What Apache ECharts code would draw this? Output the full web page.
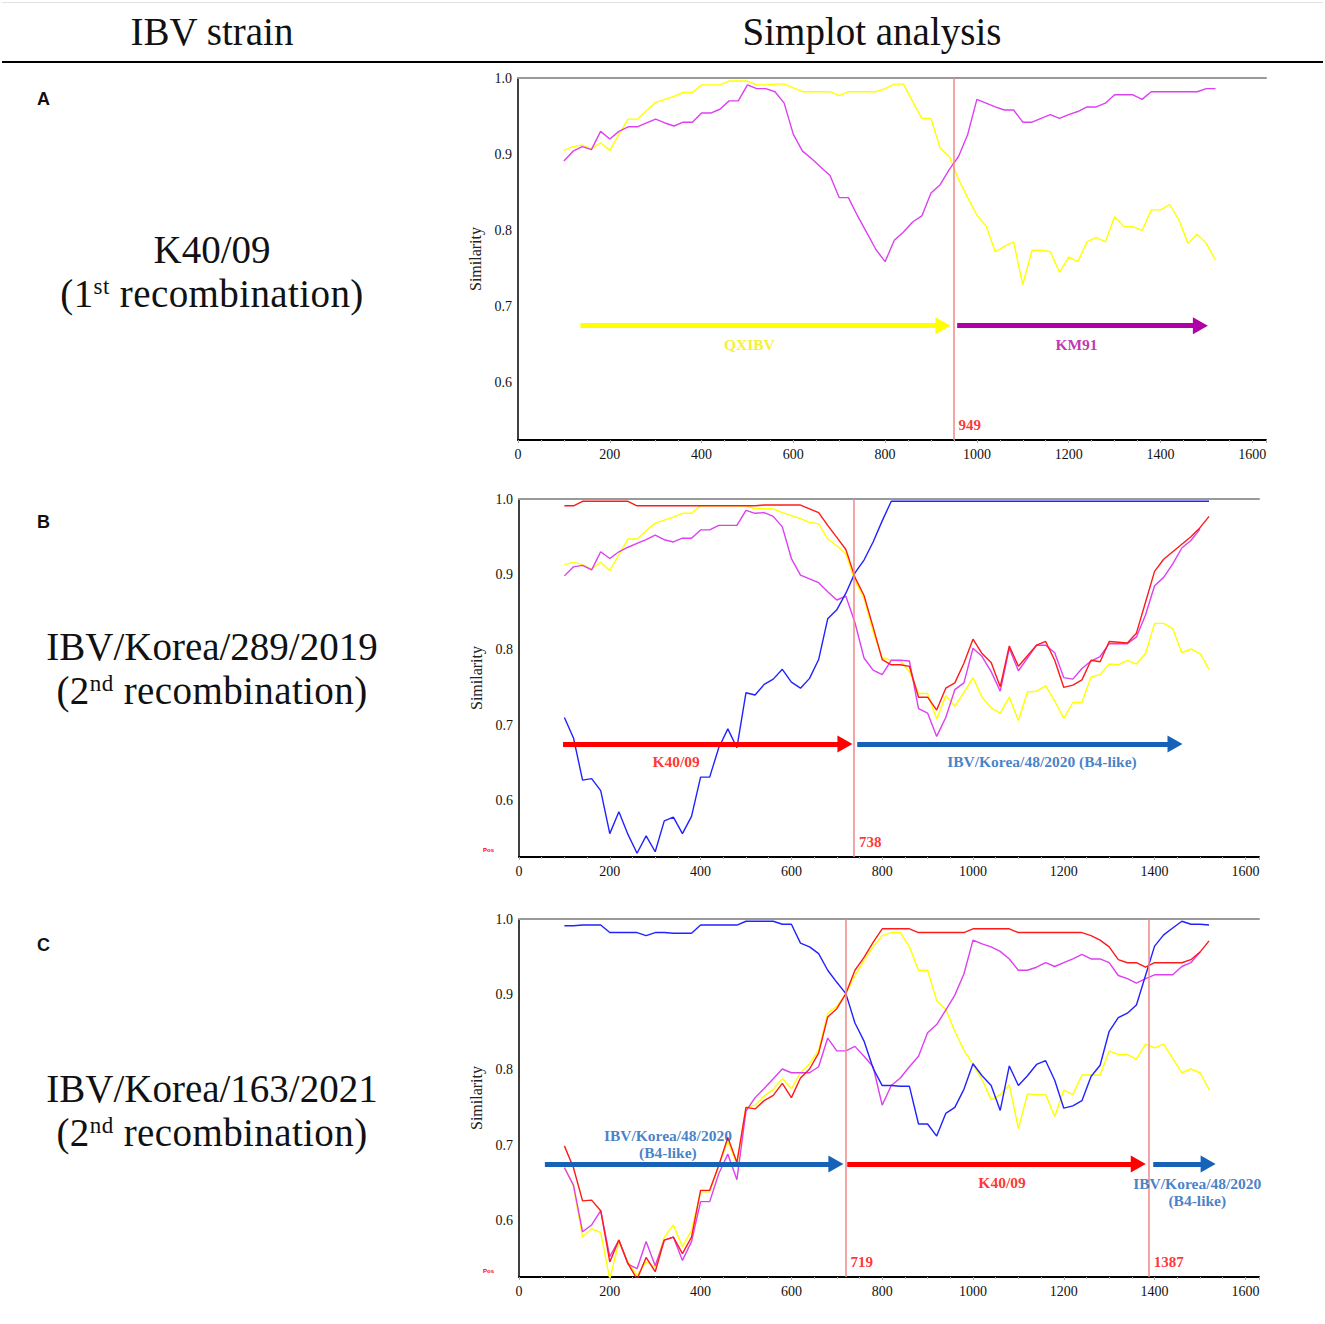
<!DOCTYPE html>
<html>
<head>
<meta charset="utf-8">
<title>Simplot analysis</title>
<script src="https://cdn.jsdelivr.net/npm/echarts@6/dist/echarts.min.js"></script>
<style>
  body { margin: 0; background: #fff; }
  #page { position: relative; width: 1325px; height: 1324px; overflow: hidden; font-family: 'Liberation Serif', serif; color: #111; }
  #chart { position: absolute; left: 0; top: 0; width: 1325px; height: 1324px; }
  .rule { position: absolute; left: 2px; width: 1321px; }
  .head, .strain { position: absolute; text-align: center; font-size: 39px; line-height: 44px; white-space: nowrap; }
  .strain .rec { letter-spacing: 0.4px; }
  .strain sup { font-size: 23px; vertical-align: baseline; position: relative; top: -13px; line-height: 0; }
  .letter { position: absolute; left: 37px; font-family: 'Liberation Sans', Arial, sans-serif; font-weight: bold; font-size: 18px; line-height: 18px; }
  .pos { position: absolute; left: 483px; font-family: 'Liberation Sans', sans-serif; font-size: 6px; color: #ff0000; font-weight: bold; }
</style>
</head>
<body>
<div id="page">
  <div id="chart"></div>
  <div class="rule" style="top:2px;height:1px;background:#e2e2e2;"></div>
  <div class="rule" style="top:61px;height:2px;background:#000;"></div>
  <div class="head" style="left:0;width:424px;top:10px;">IBV strain</div>
  <div class="head" style="left:572px;width:600px;top:10px;">Simplot analysis</div>

  <div class="letter" style="top:90px;">A</div>
  <div class="letter" style="top:513px;">B</div>
  <div class="letter" style="top:936px;">C</div>

  <div class="strain" style="left:0;width:424px;top:228px;">K40/09<br><span class="rec">(1<sup>st</sup> recombination)</span></div>
  <div class="strain" style="left:0;width:424px;top:625px;">IBV/Korea/289/2019<br><span class="rec">(2<sup>nd</sup> recombination)</span></div>
  <div class="strain" style="left:0;width:424px;top:1067px;">IBV/Korea/163/2021<br><span class="rec">(2<sup>nd</sup> recombination)</span></div>

  <div class="pos" style="top:847px;">Pos</div>
  <div class="pos" style="top:1268px;">Pos</div>
</div>
<script>
// window midpoints (bp) shared by every Simplot panel
var windowPos = [100, 120, 140, 160, 180, 200, 220, 240, 260, 280,
  300, 320, 340, 360, 380, 400, 420, 440, 460, 480,
  500, 520, 540, 560, 580, 600, 620, 640, 660, 680,
  700, 720, 740, 760, 780, 800, 820, 840, 860, 880,
  900, 920, 940, 960, 980, 1000, 1020, 1040, 1060, 1080,
  1100, 1120, 1140, 1160, 1180, 1200, 1220, 1240, 1260, 1280,
  1300, 1320, 1340, 1360, 1380, 1400, 1420, 1440, 1460, 1480,
  1500, 1520];

var xTicks = [0, 200, 400, 600, 800, 1000, 1200, 1400, 1600];
var yTicks = [0.6, 0.7, 0.8, 0.9, 1.0];

// ---- panel A : K40/09 ----
var qxibvA = [0.905, 0.910, 0.912, 0.907, 0.915, 0.905, 0.926, 0.946, 0.946, 0.957,
  0.968, 0.972, 0.976, 0.981, 0.981, 0.991, 0.991, 0.991, 0.996, 0.996,
  0.996, 0.991, 0.991, 0.992, 0.992, 0.987, 0.982, 0.982, 0.982, 0.982,
  0.977, 0.982, 0.982, 0.982, 0.982, 0.986, 0.992, 0.992, 0.969, 0.947,
  0.947, 0.908, 0.897, 0.867, 0.843, 0.820, 0.806, 0.772, 0.779, 0.785,
  0.729, 0.774, 0.774, 0.772, 0.745, 0.765, 0.759, 0.785, 0.791, 0.785,
  0.818, 0.805, 0.805, 0.800, 0.827, 0.827, 0.834, 0.814, 0.783, 0.795,
  0.783, 0.761];
var km91A = [0.891, 0.904, 0.910, 0.906, 0.930, 0.920, 0.930, 0.936, 0.936, 0.941,
  0.946, 0.941, 0.937, 0.942, 0.942, 0.954, 0.954, 0.959, 0.970, 0.970,
  0.991, 0.986, 0.986, 0.982, 0.967, 0.926, 0.904, 0.894, 0.883, 0.872,
  0.843, 0.843, 0.819, 0.797, 0.775, 0.759, 0.787, 0.798, 0.811, 0.819,
  0.849, 0.860, 0.880, 0.897, 0.926, 0.972, 0.967, 0.962, 0.958, 0.958,
  0.942, 0.942, 0.947, 0.952, 0.947, 0.952, 0.956, 0.962, 0.962, 0.967,
  0.978, 0.978, 0.978, 0.972, 0.982, 0.982, 0.982, 0.982, 0.982, 0.982,
  0.986, 0.986];
var breaksA = [949];
var arrowsA = [
  { from: 136, to: 926, labelAt: 504, text: 'QXIBV', strain: 'qxibv' },
  { from: 957, to: 1487, labelAt: 1217, text: 'KM91', strain: 'km91' }
];

// ---- panel B : IBV/Korea/289/2019 ----
var k4009B = [0.991, 0.991, 0.997, 0.997, 0.997, 0.997, 0.997, 0.997, 0.991, 0.991,
  0.991, 0.991, 0.991, 0.991, 0.991, 0.991, 0.991, 0.991, 0.991, 0.991,
  0.991, 0.991, 0.992, 0.992, 0.992, 0.992, 0.992, 0.987, 0.982, 0.965,
  0.949, 0.933, 0.896, 0.872, 0.830, 0.787, 0.780, 0.780, 0.778, 0.737,
  0.737, 0.720, 0.749, 0.756, 0.782, 0.814, 0.795, 0.783, 0.751, 0.805,
  0.778, 0.792, 0.806, 0.811, 0.786, 0.750, 0.753, 0.760, 0.786, 0.784,
  0.811, 0.810, 0.809, 0.822, 0.863, 0.904, 0.920, 0.930, 0.940, 0.950,
  0.962, 0.977];
var qxibvB = [0.913, 0.916, 0.913, 0.907, 0.916, 0.905, 0.926, 0.947, 0.947, 0.958,
  0.968, 0.972, 0.976, 0.981, 0.981, 0.991, 0.991, 0.991, 0.991, 0.991,
  0.991, 0.987, 0.987, 0.987, 0.982, 0.978, 0.974, 0.969, 0.967, 0.947,
  0.938, 0.927, 0.892, 0.868, 0.824, 0.789, 0.786, 0.785, 0.771, 0.742,
  0.742, 0.708, 0.739, 0.725, 0.743, 0.763, 0.737, 0.723, 0.716, 0.737,
  0.706, 0.744, 0.745, 0.752, 0.732, 0.709, 0.730, 0.730, 0.764, 0.767,
  0.781, 0.780, 0.786, 0.781, 0.795, 0.835, 0.835, 0.828, 0.796, 0.801,
  0.795, 0.774];
var km91B = [0.898, 0.910, 0.912, 0.906, 0.930, 0.921, 0.930, 0.936, 0.941, 0.946,
  0.952, 0.946, 0.943, 0.948, 0.948, 0.959, 0.959, 0.965, 0.965, 0.965,
  0.985, 0.981, 0.982, 0.977, 0.963, 0.921, 0.899, 0.894, 0.889, 0.877,
  0.866, 0.871, 0.836, 0.789, 0.773, 0.767, 0.786, 0.786, 0.785, 0.722,
  0.716, 0.685, 0.710, 0.747, 0.756, 0.802, 0.791, 0.771, 0.745, 0.802,
  0.772, 0.789, 0.806, 0.806, 0.796, 0.763, 0.761, 0.775, 0.785, 0.791,
  0.808, 0.808, 0.808, 0.817, 0.846, 0.885, 0.896, 0.914, 0.935, 0.945,
  0.960, null];
var b4B = [0.710, 0.683, 0.627, 0.629, 0.613, 0.556, 0.585, 0.555, 0.530, 0.553,
  0.532, 0.573, 0.578, 0.556, 0.579, 0.631, 0.631, 0.670, 0.695, 0.670,
  0.743, 0.740, 0.754, 0.761, 0.774, 0.757, 0.749, 0.762, 0.787, 0.841,
  0.853, 0.875, 0.902, 0.919, 0.943, 0.971, 0.997, 0.997, 0.997, 0.997,
  0.997, 0.997, 0.997, 0.997, 0.997, 0.997, 0.997, 0.997, 0.997, 0.997,
  0.997, 0.997, 0.997, 0.997, 0.997, 0.997, 0.997, 0.997, 0.997, 0.997,
  0.997, 0.997, 0.997, 0.997, 0.997, 0.997, 0.997, 0.997, 0.997, 0.997,
  0.997, 0.997];
var breaksB = [738];
var arrowsB = [
  { from: 97, to: 718, labelAt: 346, text: 'K40/09', strain: 'k4009' },
  { from: 745, to: 1445, labelAt: 1152, text: 'IBV/Korea/48/2020 (B4-like)', strain: 'b4' }
];

// ---- panel C : IBV/Korea/163/2021 ----
var k4009C = [0.699, 0.670, 0.626, 0.627, 0.613, 0.545, 0.574, 0.543, 0.522, 0.551,
  0.532, 0.574, 0.578, 0.556, 0.578, 0.640, 0.640, 0.673, 0.710, 0.677,
  0.750, 0.748, 0.759, 0.766, 0.782, 0.763, 0.789, 0.801, 0.822, 0.870,
  0.881, 0.901, 0.932, 0.949, 0.969, 0.987, 0.987, 0.987, 0.987, 0.982,
  0.982, 0.982, 0.982, 0.982, 0.982, 0.987, 0.987, 0.987, 0.987, 0.987,
  0.982, 0.982, 0.982, 0.982, 0.982, 0.982, 0.982, 0.982, 0.978, 0.972,
  0.963, 0.946, 0.942, 0.942, 0.936, 0.942, 0.942, 0.942, 0.942, 0.946,
  0.956, 0.971];
var qxibvC = [0.672, 0.645, 0.578, 0.589, 0.584, 0.522, 0.572, 0.545, 0.527, 0.545,
  0.538, 0.578, 0.594, 0.565, 0.587, 0.638, 0.638, 0.673, 0.705, 0.675,
  0.750, 0.753, 0.765, 0.774, 0.788, 0.775, 0.796, 0.808, 0.826, 0.875,
  0.884, 0.901, 0.925, 0.945, 0.963, 0.978, 0.982, 0.982, 0.963, 0.932,
  0.932, 0.892, 0.880, 0.851, 0.826, 0.807, 0.787, 0.760, 0.767, 0.780,
  0.722, 0.768, 0.767, 0.767, 0.738, 0.773, 0.767, 0.793, 0.793, 0.793,
  0.825, 0.820, 0.820, 0.814, 0.834, 0.829, 0.834, 0.815, 0.796, 0.801,
  0.796, 0.774];
var km91C = [0.670, 0.647, 0.585, 0.594, 0.613, 0.552, 0.574, 0.542, 0.536, 0.572,
  0.540, 0.574, 0.578, 0.547, 0.572, 0.625, 0.625, 0.662, 0.688, 0.654,
  0.745, 0.763, 0.775, 0.788, 0.801, 0.796, 0.796, 0.796, 0.804, 0.842,
  0.825, 0.825, 0.831, 0.818, 0.804, 0.753, 0.779, 0.789, 0.804, 0.818,
  0.849, 0.860, 0.879, 0.899, 0.927, 0.972, 0.967, 0.963, 0.957, 0.947,
  0.932, 0.932, 0.936, 0.942, 0.937, 0.942, 0.947, 0.953, 0.947, 0.947,
  0.942, 0.925, 0.921, 0.915, 0.921, 0.926, 0.926, 0.926, 0.937, 0.942,
  0.956, null];
var b4C = [0.991, 0.991, 0.992, 0.992, 0.992, 0.982, 0.982, 0.982, 0.982, 0.978,
  0.982, 0.982, 0.981, 0.981, 0.981, 0.992, 0.992, 0.992, 0.992, 0.992,
  0.997, 0.997, 0.997, 0.997, 0.993, 0.993, 0.968, 0.963, 0.954, 0.932,
  0.916, 0.901, 0.862, 0.838, 0.802, 0.779, 0.779, 0.778, 0.778, 0.728,
  0.728, 0.712, 0.742, 0.750, 0.774, 0.808, 0.792, 0.779, 0.746, 0.805,
  0.779, 0.792, 0.807, 0.812, 0.786, 0.749, 0.752, 0.759, 0.791, 0.806,
  0.851, 0.869, 0.875, 0.886, 0.925, 0.964, 0.979, 0.988, 0.997, 0.993,
  0.993, 0.992];
var breaksC = [719, 1387];
var arrowsC = [
  { from: 57, to: 698, labelAt: 328, text: 'IBV/Korea/48/2020\n(B4-like)', strain: 'b4' },
  { from: 723, to: 1364, labelAt: 1064, text: 'K40/09', strain: 'k4009' },
  { from: 1397, to: 1518, labelAt: 1494, text: 'IBV/Korea/48/2020\n(B4-like)', strain: 'b4' }
];

// styling
var lineColor = { qxibv: '#ffff00', km91: '#dc40f0', k4009: '#ff1a1a', b4: '#2222ff' };
var arrowColor = { qxibv: '#ffff00', km91: '#b000a8', k4009: '#ff0000', b4: '#1662b8' };
var arrowTextColor = { qxibv: '#f3ec00', km91: '#b0009f', k4009: '#ff0000', b4: '#1662b8' };
var serif = "'Liberation Serif', 'Times New Roman', serif";
var xMax = 1630, yMin = 0.525, yMax = 1.0, arrowY = 0.675;

var panels = [
  { grid: { left: 518, top: 78, width: 748, height: 362 },
    lines: [['qxibv', qxibvA], ['km91', km91A]],
    breaks: breaksA, arrows: arrowsA, labelDy: [19, 19] },
  { grid: { left: 519, top: 499, width: 740, height: 358 },
    lines: [['qxibv', qxibvB], ['km91', km91B], ['b4', b4B], ['k4009', k4009B]],
    breaks: breaksB, arrows: arrowsB, labelDy: [18, 18] },
  { grid: { left: 519, top: 919, width: 740, height: 358 },
    lines: [['qxibv', qxibvC], ['km91', km91C], ['b4', b4C], ['k4009', k4009C]],
    breaks: breaksC, arrows: arrowsC, labelDy: [-20, 19, 28] }
];

var option = { animation: false, grid: [], xAxis: [], yAxis: [], series: [] };

panels.forEach(function (p, i) {
  option.grid.push(p.grid);
  // bottom position axis
  option.xAxis.push({
    gridIndex: i, type: 'value', position: 'bottom', min: 0, max: xMax, interval: 200,
    axisLine: { show: true, onZero: false, lineStyle: { color: '#000', width: 2 } },
    axisTick: { show: true, length: 3, lineStyle: { color: '#aaa' } },
    minorTick: { show: true, splitNumber: 4, length: 2, lineStyle: { color: '#bbb' } },
    splitLine: { show: false },
    axisLabel: {
      margin: 7, fontFamily: serif, fontSize: 14, color: '#111',
      formatter: function (v) { return xTicks.indexOf(v) >= 0 ? String(v) : ''; }
    }
  });
  // grey frame line along the top
  option.xAxis.push({
    gridIndex: i, type: 'value', position: 'top', min: 0, max: xMax,
    axisLine: { show: true, onZero: false, lineStyle: { color: '#9a9a9a', width: 2 } },
    axisTick: { show: false }, axisLabel: { show: false }, splitLine: { show: false }
  });
  option.yAxis.push({
    gridIndex: i, type: 'value', min: yMin, max: yMax,
    name: 'Similarity', nameLocation: 'middle', nameGap: 29, nameRotate: 90,
    nameTextStyle: { fontFamily: serif, fontSize: 16, color: '#222' },
    axisLine: { show: true, onZero: false, lineStyle: { color: '#000', width: 1.5 } },
    axisTick: { show: false }, splitLine: { show: false },
    axisLabel: {
      customValues: yTicks, margin: 6, fontFamily: serif, fontSize: 14, color: '#111',
      formatter: function (v) { return Number(v).toFixed(1); }
    }
  });

  p.lines.forEach(function (l) {
    option.series.push({
      type: 'line', name: l[0], xAxisIndex: 2 * i, yAxisIndex: i,
      data: windowPos.map(function (x, k) { return [x, l[1][k]]; }),
      symbol: 'none', showSymbol: false, silent: true, clip: true,
      lineStyle: { color: lineColor[l[0]], width: 1.4 }, z: 2
    });
  });

  // recombination breakpoints
  option.series.push({
    type: 'scatter', xAxisIndex: 2 * i, yAxisIndex: i, symbolSize: 0, silent: true, z: 4,
    data: p.breaks.map(function (b) { return [b, yMin]; }),
    label: {
      show: true, position: 'right', distance: 5, offset: [0, -15],
      formatter: function (d) { return String(d.value[0]); },
      color: '#ff0000', fontFamily: serif, fontWeight: 'bold', fontSize: 15
    },
    markLine: {
      silent: true, symbol: 'none', animation: false, label: { show: false },
      lineStyle: { color: '#f08888', width: 1.5, type: 'solid' },
      data: p.breaks.map(function (b) { return { xAxis: b }; })
    }
  });

  // parental region arrows
  option.series.push({
    type: 'scatter', xAxisIndex: 2 * i, yAxisIndex: i, symbolSize: 0, silent: true, z: 5,
    data: p.arrows.map(function (a, k) {
      return {
        value: [a.labelAt, arrowY],
        label: { color: arrowTextColor[a.strain], offset: [0, p.labelDy[k]] }
      };
    }),
    label: {
      show: true, position: 'inside', fontFamily: serif, fontWeight: 'bold',
      fontSize: 15.5, lineHeight: 17,
      formatter: function (d) { return p.arrows[d.dataIndex].text; }
    },
    markLine: {
      silent: true, animation: false, symbol: ['none', 'triangle'], symbolSize: [17, 15],
      label: { show: false },
      data: p.arrows.map(function (a) {
        var st = { color: arrowColor[a.strain], width: 5, type: 'solid' };
        return [{ coord: [a.from, arrowY], lineStyle: st, itemStyle: { color: arrowColor[a.strain] } },
                { coord: [a.to, arrowY], lineStyle: st, itemStyle: { color: arrowColor[a.strain] } }];
      })
    }
  });
});

var chart = echarts.init(document.getElementById('chart'), null, { renderer: 'svg' });
chart.setOption(option);
</script>
</body>
</html>
